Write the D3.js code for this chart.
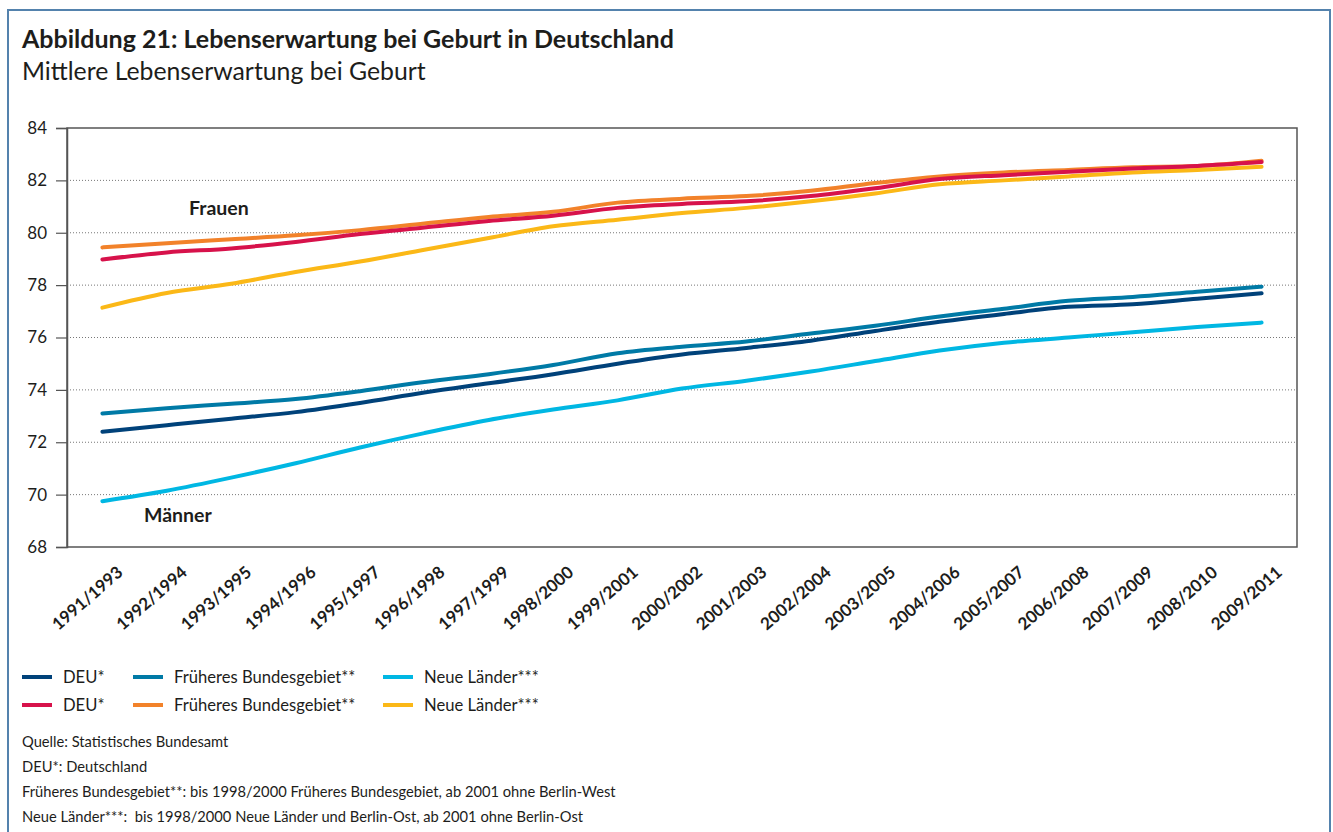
<!DOCTYPE html>
<html lang="de">
<head>
<meta charset="utf-8">
<title>Lebenserwartung bei Geburt in Deutschland</title>
<script src="https://cdn.jsdelivr.net/npm/d3@7"></script>
<style>
  html, body { margin: 0; padding: 0; background: #ffffff; }
  svg { display: block; font-family: Lato, "Open Sans", sans-serif; }
  .pre { white-space: pre; }
</style>
</head>
<body>
<svg id="chart" width="1333" height="832"></svg>
<script>
// Zeiträume (Sterbetafeln, jeweils drei Jahre)
const periods = [
  "1991/1993", "1992/1994", "1993/1995", "1994/1996", "1995/1997",
  "1996/1998", "1997/1999", "1998/2000", "1999/2001", "2000/2002",
  "2001/2003", "2002/2004", "2003/2005", "2004/2006", "2005/2007",
  "2006/2008", "2007/2009", "2008/2010", "2009/2011"
];

// Männer
const menDEU = [72.4, 72.65, 72.9, 73.15, 73.5, 73.9, 74.25, 74.6, 75.0, 75.35,
  75.6, 75.88, 76.25, 76.6, 76.9, 77.17, 77.27, 77.48, 77.69];
const menFB = [73.1, 73.3, 73.47, 73.65, 73.95, 74.3, 74.6, 74.95, 75.4, 75.65,
  75.85, 76.15, 76.45, 76.8, 77.1, 77.4, 77.55, 77.75, 77.94];
const menNL = [69.75, 70.15, 70.65, 71.2, 71.8, 72.35, 72.85, 73.25, 73.6, 74.05,
  74.35, 74.7, 75.1, 75.5, 75.8, 76.0, 76.2, 76.4, 76.57];

// Frauen
const womenDEU = [78.98, 79.25, 79.4, 79.65, 79.95, 80.2, 80.45, 80.65, 80.95, 81.1,
  81.2, 81.4, 81.7, 82.05, 82.2, 82.33, 82.45, 82.55, 82.7];
const womenFB = [79.44, 79.6, 79.75, 79.9, 80.1, 80.35, 80.6, 80.8, 81.15, 81.3,
  81.4, 81.6, 81.9, 82.15, 82.3, 82.4, 82.5, 82.55, 82.75];
const womenNL = [77.14, 77.7, 78.05, 78.5, 78.9, 79.35, 79.8, 80.25, 80.5, 80.75,
  80.95, 81.2, 81.5, 81.85, 82.0, 82.15, 82.3, 82.4, 82.52];

const yTicks = [68, 70, 72, 74, 76, 78, 80, 82, 84];

const legendNames = ["DEU*", "Früheres Bundesgebiet**", "Neue Länder***"];
const menColors = ["#00427a", "#007aa6", "#00b7e3"];
const womenColors = ["#d7124b", "#f2822a", "#fbb817"];

const notes = [
  "Quelle: Statistisches Bundesamt",
  "DEU*: Deutschland",
  "Früheres Bundesgebiet**: bis 1998/2000 Früheres Bundesgebiet, ab 2001 ohne Berlin-West",
  "Neue Länder***:  bis 1998/2000 Neue Länder und Berlin-Ost, ab 2001 ohne Berlin-Ost"
];

const series = [
  { values: womenFB, color: womenColors[1] },
  { values: womenNL, color: womenColors[2] },
  { values: womenDEU, color: womenColors[0] },
  { values: menFB, color: menColors[1] },
  { values: menNL, color: menColors[2] },
  { values: menDEU, color: menColors[0] }
];

const svg = d3.select("#chart");

// Rahmen der Abbildung
svg.append("rect")
  .attr("x", 8).attr("y", 10)
  .attr("width", 1322).attr("height", 840)
  .attr("fill", "none")
  .attr("stroke", "#5482ad")
  .attr("stroke-width", 2);

// Titel
svg.append("text")
  .attr("x", 22).attr("y", 48)
  .attr("font-size", 25).attr("font-weight", 700)
  .attr("fill", "#1d1d1b")
  .text("Abbildung 21: Lebenserwartung bei Geburt in Deutschland");
svg.append("text")
  .attr("x", 22).attr("y", 80)
  .attr("font-size", 24.8)
  .attr("fill", "#1d1d1b")
  .text("Mittlere Lebenserwartung bei Geburt");

// Zeichenfläche
const plot = { left: 67, right: 1297, top: 128, bottom: 547 };

const x = d3.scalePoint()
  .domain(periods)
  .range([plot.left, plot.right])
  .padding(0.55);

const y = d3.scaleLinear()
  .domain([68, 84])
  .range([plot.bottom, plot.top]);

// gepunktete Hilfslinien
svg.append("g")
  .selectAll("line")
  .data(yTicks.filter(t => t > 68 && t < 84))
  .join("line")
  .attr("x1", plot.left).attr("x2", plot.right)
  .attr("y1", d => y(d)).attr("y2", d => y(d))
  .attr("stroke", "#777")
  .attr("stroke-width", 1)
  .attr("stroke-dasharray", "1,2");

// Rahmen der Zeichenfläche
svg.append("rect")
  .attr("x", plot.left).attr("y", plot.top)
  .attr("width", plot.right - plot.left)
  .attr("height", plot.bottom - plot.top)
  .attr("fill", "none")
  .attr("stroke", "#555")
  .attr("stroke-width", 1.5);

// y-Achse
const yAxis = svg.append("g")
  .attr("transform", `translate(${plot.left},0)`)
  .call(d3.axisLeft(y).tickValues(yTicks).tickSize(11).tickPadding(9).tickFormat(d3.format("d")));
yAxis.select(".domain").attr("stroke", "#555").attr("stroke-width", 1.5);
yAxis.selectAll(".tick line").attr("stroke", "#555").attr("stroke-width", 1.2);
yAxis.selectAll(".tick text")
  .attr("font-family", "Lato, sans-serif")
  .attr("font-size", 17)
  .attr("fill", "#1d1d1b");

// x-Achse (Beschriftung schräg)
const xAxis = svg.append("g")
  .attr("transform", `translate(0,${plot.bottom})`)
  .call(d3.axisBottom(x).tickSize(0).tickPadding(0));
xAxis.select(".domain").remove();
xAxis.selectAll(".tick text")
  .attr("font-family", "Lato, sans-serif")
  .attr("font-size", 17)
  .attr("font-weight", 700)
  .attr("fill", "#1d1d1b")
  .attr("text-anchor", "end")
  .attr("dy", 0)
  .attr("transform", "translate(21,27) rotate(-41)");

// Linien
const line = d3.line()
  .x((d, i) => x(periods[i]))
  .y(d => y(d))
  .curve(d3.curveMonotoneX);

svg.append("g")
  .selectAll("path")
  .data(series)
  .join("path")
  .attr("d", d => line(d.values))
  .attr("fill", "none")
  .attr("stroke", d => d.color)
  .attr("stroke-width", 4)
  .attr("stroke-linecap", "round")
  .attr("stroke-linejoin", "round");

// Gruppenbeschriftungen
svg.append("text")
  .attr("x", 189).attr("y", 215)
  .attr("font-size", 19.5).attr("font-weight", 700)
  .attr("fill", "#1d1d1b")
  .text("Frauen");
svg.append("text")
  .attr("x", 144).attr("y", 522)
  .attr("font-size", 19.5).attr("font-weight", 700)
  .attr("fill", "#1d1d1b")
  .text("Männer");

// Legende
const legendX = [22, 133, 383];
const legendRows = [
  { y: 677, colors: menColors },
  { y: 705, colors: womenColors }
];
legendRows.forEach(row => {
  const g = svg.append("g");
  legendNames.forEach((name, i) => {
    g.append("line")
      .attr("x1", legendX[i]).attr("x2", legendX[i] + 30)
      .attr("y1", row.y).attr("y2", row.y)
      .attr("stroke", row.colors[i])
      .attr("stroke-width", 4);
    g.append("text")
      .attr("x", legendX[i] + 41).attr("y", row.y + 5.5)
      .attr("font-size", 16.6)
      .attr("fill", "#1d1d1b")
      .text(name);
  });
});

// Quellen und Anmerkungen
svg.append("g")
  .selectAll("text")
  .data(notes)
  .join("text")
  .attr("class", "pre")
  .attr("x", 22)
  .attr("y", (d, i) => 747 + i * 25)
  .attr("font-size", 14.7)
  .attr("fill", "#1d1d1b")
  .text(d => d);
</script>
</body>
</html>
